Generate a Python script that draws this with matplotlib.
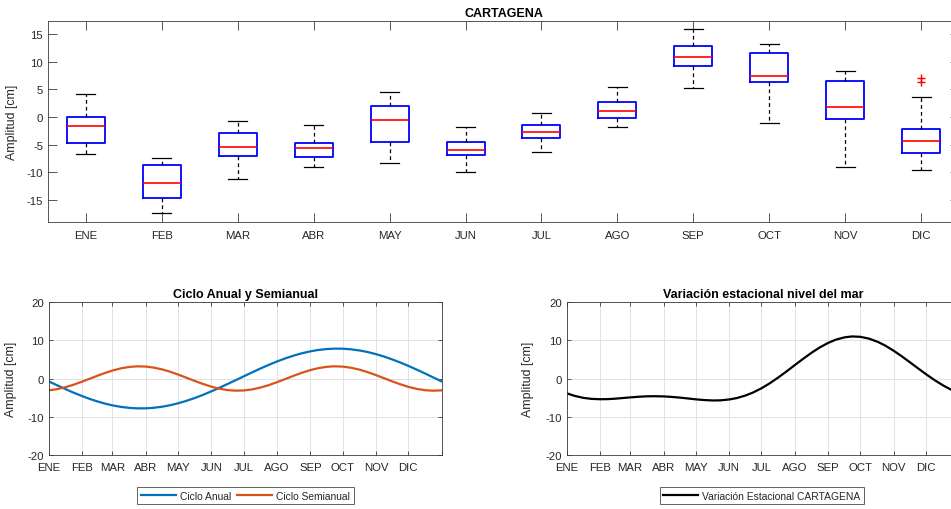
import matplotlib
matplotlib.use("Agg")
import matplotlib.pyplot as plt
import numpy as np

plt.rcParams['font.family'] = ['Liberation Sans', 'DejaVu Sans']
plt.rcParams['axes.unicode_minus'] = False

# Monthly box statistics of sea level at Cartagena [cm]
months = ['ENE', 'FEB', 'MAR', 'ABR', 'MAY', 'JUN', 'JUL', 'AGO', 'SEP', 'OCT', 'NOV', 'DIC']
whis_lo = [-6.6, -17.4, -11.2, -9.0, -8.3, -9.9, -6.3, -1.8, 5.2, -1.1, -9.0, -9.5]
q1 = [-4.6, -14.6, -7.1, -7.2, -4.5, -6.9, -3.7, -0.1, 9.3, 6.3, -0.4, -6.4]
median = [-1.6, -11.9, -5.4, -5.6, -0.5, -5.9, -2.7, 1.1, 10.8, 7.5, 1.9, -4.3]
q3 = [0.0, -8.7, -2.8, -4.6, 2.0, -4.5, -1.5, 2.8, 12.8, 11.5, 6.5, -2.2]
whis_hi = [4.2, -7.4, -0.7, -1.4, 4.6, -1.8, 0.8, 5.4, 15.9, 13.2, 8.3, 3.6]
outliers = [[], [], [], [], [], [], [], [], [], [], [], [6.4, 7.0]]

# Annual and semiannual cycles sampled through the year (day of year)
days = [0, 7, 15, 23, 31, 38, 45, 52, 59, 67, 75, 82, 90, 97, 105, 112, 120,
        128, 136, 143, 151, 158, 166, 173, 181, 189, 197, 204, 212, 220, 228,
        235, 243, 250, 258, 265, 273, 281, 289, 296, 304, 311, 319, 326, 334,
        342, 350, 357, 365]
ciclo_anual = [-0.78, -1.71, -2.75, -3.73, -4.64, -5.37, -6.02, -6.58, -7.05,
               -7.46, -7.72, -7.84, -7.83, -7.70, -7.41, -7.05, -6.51, -5.84,
               -5.07, -4.31, -3.36, -2.49, -1.44, -0.51, 0.57, 1.64, 2.68, 3.55,
               4.48, 5.32, 6.06, 6.62, 7.13, 7.48, 7.73, 7.84, 7.82, 7.65, 7.34,
               6.96, 6.39, 5.80, 5.01, 4.25, 3.31, 2.30, 1.25, 0.30, -0.77]
ciclo_semianual = [-3.10, -2.82, -2.31, -1.62, -0.80, -0.04, 0.72, 1.45, 2.09,
                   2.67, 3.05, 3.19, 3.13, 2.88, 2.40, 1.83, 1.04, 0.18, -0.70,
                   -1.42, -2.15, -2.65, -3.04, -3.19, -3.14, -2.85, -2.34, -1.76,
                   -0.96, -0.10, 0.78, 1.50, 2.21, 2.70, 3.06, 3.20, 3.12, 2.81,
                   2.29, 1.69, 0.88, 0.12, -0.75, -1.47, -2.19, -2.74, -3.09,
                   -3.20, -3.10]
month_start_days = [0, 31, 59, 90, 120, 151, 181, 212, 243, 273, 304, 334]

TXT = '#262626'
AXC = '#3a3a3a'
BLUE = (0.0, 0.447, 0.741)
ORANGE = (0.85, 0.325, 0.098)

fig = plt.figure(figsize=(9.51, 5.10), dpi=100)


def style_axes(ax, ticklen, labelsize=8.2):
    for s in ax.spines.values():
        s.set_color(AXC)
        s.set_linewidth(0.6)
    ax.tick_params(direction='in', length=ticklen, width=0.6, color=AXC,
                   labelcolor=TXT, labelsize=labelsize,
                   top=True, right=True)
    ax.tick_params(axis='x', pad=5.5)
    ax.tick_params(axis='y', pad=3.5)


# ---- Monthly boxplot ----
ax1 = fig.add_axes([48 / 951, 1 - 223.3 / 510, 911 / 951, 201.6 / 510])
stats = []
for i in range(len(months)):
    stats.append(dict(med=median[i], q1=q1[i], q3=q3[i],
                      whislo=whis_lo[i], whishi=whis_hi[i],
                      fliers=outliers[i], label=months[i]))
ax1.bxp(stats, positions=np.arange(1, 13), widths=0.5, capwidths=0.25,
        boxprops=dict(color='blue', linewidth=1.3),
        medianprops=dict(color='red', linewidth=1.2),
        whiskerprops=dict(color='black', linewidth=0.9, linestyle=(0, (3, 2.5))),
        capprops=dict(color='black', linewidth=0.9),
        flierprops=dict(marker='+', markeredgecolor='red', markersize=6,
                        markeredgewidth=1.0, linestyle='none'))
ax1.set_xlim(0.5, 12.5)
ax1.set_ylim(-19.0, 17.4)
ax1.set_yticks([-15, -10, -5, 0, 5, 10, 15])
ax1.set_xticks(np.arange(1, 13))
ax1.set_xticklabels(months)
style_axes(ax1, 6.5)
ax1.set_title('CARTAGENA', fontsize=9, fontweight='bold', color='black', pad=3.5)
ax1.set_ylabel('Amplitud [cm]', fontsize=8.9, color=TXT)
ax1.yaxis.set_label_coords(-0.033, 0.5)


def style_cycle_axes(ax):
    ax.set_xlim(0, 365)
    ax.set_ylim(-20, 20)
    ax.set_xticks(month_start_days + [365])
    ax.set_xticklabels(months + [''])
    ax.set_yticks([-20, -10, 0, 10, 20])
    ax.grid(True, color='#e2e2e2', linewidth=0.7)
    ax.set_axisbelow(True)
    style_axes(ax, 2.8)
    ax.set_ylabel('Amplitud [cm]', fontsize=8.9, color=TXT)


# ---- Annual and semiannual cycles ----
ax2 = fig.add_axes([49 / 951, 1 - 455.7 / 510, 392.7 / 951, 152.4 / 510])
ax2.plot(days, ciclo_anual, color=BLUE, linewidth=1.6, label='Ciclo Anual')
ax2.plot(days, ciclo_semianual, color=ORANGE, linewidth=1.6, label='Ciclo Semianual')
style_cycle_axes(ax2)
ax2.yaxis.set_label_coords(-0.081, 0.5)
ax2.set_title('Ciclo Anual y Semianual', fontsize=9, fontweight='bold',
              color='black', pad=3.5)
leg2 = fig.legend(handles=ax2.get_lines(), loc='center',
                  bbox_to_anchor=(245.5 / 951, 1 - 496.7 / 510), ncol=2,
                  fontsize=7.4, frameon=True, fancybox=False, handlelength=3.4,
                  handletextpad=0.4, columnspacing=0.6, borderpad=0.35,
                  borderaxespad=0)
leg2.get_frame().set_edgecolor(AXC)
leg2.get_frame().set_linewidth(0.7)
for t in leg2.get_texts():
    t.set_color(TXT)

# ---- Seasonal sea level variation (sum of both cycles) ----
variacion = [a + s for a, s in zip(ciclo_anual, ciclo_semianual)]
ax3 = fig.add_axes([566.7 / 951, 1 - 455.7 / 510, 392.7 / 951, 152.4 / 510])
ax3.plot(days, variacion, color='black', linewidth=1.6,
         label='Variación Estacional CARTAGENA')
style_cycle_axes(ax3)
ax3.yaxis.set_label_coords(-0.083, 0.5)
ax3.set_title('Variación estacional nivel del mar', fontsize=9, fontweight='bold',
              color='black', pad=3.5)
leg3 = fig.legend(handles=ax3.get_lines(), loc='center',
                  bbox_to_anchor=(762 / 951, 1 - 496.7 / 510), ncol=1,
                  fontsize=7.4, frameon=True, fancybox=False, handlelength=3.4,
                  handletextpad=0.4, borderpad=0.35, borderaxespad=0)
leg3.get_frame().set_edgecolor(AXC)
leg3.get_frame().set_linewidth(0.7)
for t in leg3.get_texts():
    t.set_color(TXT)

fig.savefig('out.png', dpi=100)
